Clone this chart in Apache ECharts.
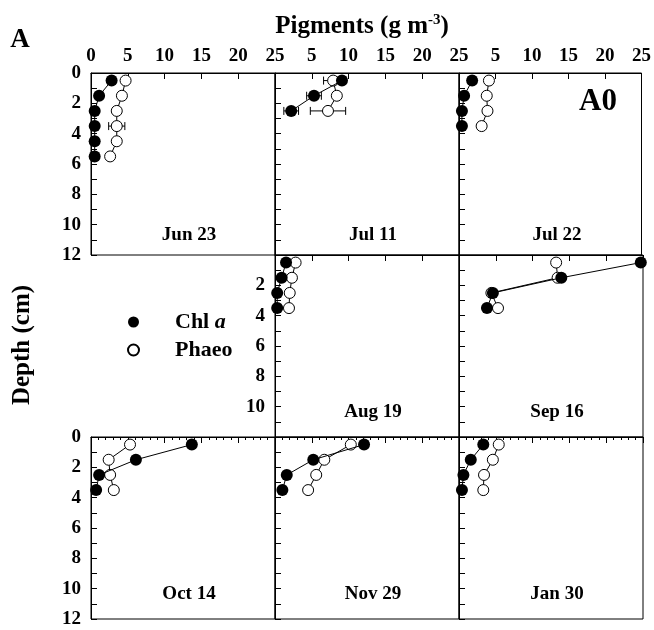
<!DOCTYPE html>
<html>
<head>
<meta charset="utf-8">
<script src="https://cdn.jsdelivr.net/npm/echarts@6/dist/echarts.min.js"></script>
<style>
  html, body { margin: 0; padding: 0; background: #fff; }
  #chart { width: 654px; height: 630px; }
</style>
</head>
<body>
<div id="chart"></div>
<script>
// sample depths (cm), shared by all panels
const depths = [0.5, 1.5, 2.5, 3.5, 4.5, 5.5]

// one entry per panel
const panelDates = ['Jun 23', 'Jul 11', 'Jul 22', 'Aug 19', 'Sep 16', 'Oct 14', 'Nov 29', 'Jan 30']
const chl = [
  [2.8, 1.1, 0.5, 0.5, 0.5, 0.5],
  [9.1, 5.3, 2.2],
  [1.8, 0.7, 0.4, 0.4],
  [1.5, 0.9, 0.3, 0.3],
  [24.7, 13.9, 4.6, 3.8],
  [13.7, 6.1, 1.1, 0.7],
  [12.1, 5.2, 1.6, 1.0],
  [3.3, 1.6, 0.6, 0.4],
]
const phaeo = [
  [4.7, 4.2, 3.5, 3.5, 3.5, 2.6],
  [7.9, 8.4, 7.2],
  [4.1, 3.8, 3.9, 3.1],
  [2.8, 2.3, 2.0, 1.9],
  [13.2, 13.4, 4.4, 5.3],
  [5.3, 2.4, 2.6, 3.1],
  [10.3, 6.7, 5.6, 4.5],
  [5.4, 4.6, 3.4, 3.3],
]
// horizontal error bars (+/-), 0 = none drawn
const chlErr = [
  [0, 0, 0, 0, 0, 0],
  [0, 1.0, 1.0],
  [0, 0, 0, 0],
  [0, 0, 0, 0],
  [0, 0, 0, 0],
  [0, 0, 0, 0],
  [0, 0, 0, 0],
  [0, 0, 0, 0],
]
const phaeoErr = [
  [0.4, 0.4, 0.4, 1.1, 0, 0],
  [1.3, 0.4, 2.4],
  [0, 0, 0, 0],
  [0, 0, 0, 0],
  [0, 0, 0, 0],
  [0, 0, 0, 0],
  [0, 0, 0, 0],
  [0, 0, 0, 0],
]
const xTicks = [0, 5, 10, 15, 20, 25]
const yTicks = [0, 2, 4, 6, 8, 10, 12]

// layout: row/col of each panel in the 3x3 grid (middle-left is empty)
const cells = [[0, 0], [0, 1], [0, 2], [1, 1], [1, 2], [2, 0], [2, 1], [2, 2]]
const L = 91, T = 73, W = 184, H = 182
const FONT = 'Liberation Serif'

const grids = [], xAxes = [], yAxes = [], series = [], graphics = []

cells.forEach(([r, c], i) => {
  grids.push({
    left: L + c * W, top: T + r * H, width: W, height: H,
    show: true, borderColor: '#000', borderWidth: 1, backgroundColor: 'transparent'
  })
  xAxes.push({
    gridIndex: i, type: 'value', min: xTicks[0], max: xTicks[xTicks.length - 1], interval: 5,
    position: 'top',
    axisLine: { show: true, lineStyle: { color: '#000', width: 1 } },
    axisTick: { show: true, inside: true, length: 6, lineStyle: { color: '#000' } },
    minorTick: { show: r === 2, splitNumber: 5, length: 3, lineStyle: { color: '#000' } },
    splitLine: { show: false },
    axisLabel: {
      show: r === 0, margin: 7,
      fontFamily: FONT, fontWeight: 'bold', fontSize: 19, color: '#000',
      formatter: v => (c > 0 && v === 0) ? '' : String(v)
    }
  })
  const showY = c === 0 || (r === 1 && c === 1)
  yAxes.push({
    gridIndex: i, type: 'value', inverse: true, min: yTicks[0], max: yTicks[yTicks.length - 1], interval: 1,
    axisLine: { show: true, lineStyle: { color: '#000', width: 1 } },
    axisTick: { show: true, inside: true, length: 6, lineStyle: { color: '#000' } },
    splitLine: { show: false },
    axisLabel: {
      show: showY, margin: 10,
      fontFamily: FONT, fontWeight: 'bold', fontSize: 19, color: '#000',
      formatter: v => {
        if (!yTicks.includes(v)) return ''
        if (r === 1 && (v === 0 || v === 12)) return ''
        return String(v)
      }
    }
  })

  const chlData = chl[i].map((v, k) => [v, depths[k]])
  const phData = phaeo[i].map((v, k) => [v, depths[k]])
  const errData = []
  chl[i].forEach((v, k) => { if (chlErr[i][k]) errData.push([v, depths[k], chlErr[i][k]]) })
  phaeo[i].forEach((v, k) => { if (phaeoErr[i][k]) errData.push([v, depths[k], phaeoErr[i][k]]) })

  series.push({
    type: 'custom', name: 'err', xAxisIndex: i, yAxisIndex: i, z: 1, silent: true,
    data: errData,
    renderItem: (params, api) => {
      const x = api.value(0), y = api.value(1), e = api.value(2)
      const a = api.coord([x - e, y]), b = api.coord([x + e, y])
      const st = { stroke: '#000', lineWidth: 1 }
      return {
        type: 'group', children: [
          { type: 'line', shape: { x1: a[0], y1: a[1], x2: b[0], y2: b[1] }, style: st },
          { type: 'line', shape: { x1: a[0], y1: a[1] - 4, x2: a[0], y2: a[1] + 4 }, style: st },
          { type: 'line', shape: { x1: b[0], y1: b[1] - 4, x2: b[0], y2: b[1] + 4 }, style: st }
        ]
      }
    }
  })
  series.push({
    type: 'line', name: 'Phaeo', xAxisIndex: i, yAxisIndex: i, z: 2,
    data: phData, symbol: 'circle', symbolSize: 11, showAllSymbol: true,
    lineStyle: { color: '#000', width: 1 },
    itemStyle: { color: '#fff', borderColor: '#000', borderWidth: 1 },
    emphasis: { disabled: true }
  })
  series.push({
    type: 'line', name: 'Chl a', xAxisIndex: i, yAxisIndex: i, z: 3,
    data: chlData, symbol: 'circle', symbolSize: 12, showAllSymbol: true,
    lineStyle: { color: '#000', width: 1 },
    itemStyle: { color: '#000', borderColor: '#000', borderWidth: 0 },
    emphasis: { disabled: true }
  })

  graphics.push({
    type: 'text', x: L + c * W + W / 2 + 6, y: T + r * H + H - (r === 0 ? 20 : 25),
    style: {
      text: panelDates[i], font: `bold 19px "${FONT}"`, fill: '#000',
      align: 'center', verticalAlign: 'middle'
    }
  })
})

graphics.push(
  {
    type: 'text', x: 20, y: 40,
    style: { text: 'A', font: `bold 27px "${FONT}"`, fill: '#000', align: 'center', verticalAlign: 'middle' }
  },
  {
    type: 'text', x: 362, y: 26,
    style: {
      text: '{b|Pigments (g m}{s|-3}{b|)}',
      align: 'center', verticalAlign: 'middle',
      rich: {
        b: { font: `bold 25px "${FONT}"`, fill: '#000', verticalAlign: 'bottom' },
        s: { font: `bold 15px "${FONT}"`, fill: '#000', verticalAlign: 'top', padding: [0, 0, 12, 0] }
      }
    }
  },
  {
    type: 'text', x: 598, y: 102,
    style: { text: 'A0', font: `bold 31px "${FONT}"`, fill: '#000', align: 'center', verticalAlign: 'middle' }
  },
  {
    type: 'text', x: 23, y: 345, rotation: Math.PI / 2,
    style: { text: 'Depth (cm)', font: `bold 25px "${FONT}"`, fill: '#000', align: 'center', verticalAlign: 'middle' }
  }
)

const chart = echarts.init(document.getElementById('chart'))
chart.setOption({
  animation: false,
  grid: grids,
  xAxis: xAxes,
  yAxis: yAxes,
  legend: {
    data: ['Chl a', 'Phaeo'],
    orient: 'vertical', left: 122, top: 306, itemGap: 6,
    itemWidth: 11, itemHeight: 11, icon: 'circle',
    selectedMode: false,
    formatter: name => name === 'Chl a' ? '{p|}{b|Chl }{i|a}' : '{p|}{b|Phaeo}',
    textStyle: {
      rich: {
        p: { width: 31 },
        b: { fontFamily: FONT, fontWeight: 'bold', fontSize: 22, color: '#000', lineHeight: 24 },
        i: { fontFamily: FONT, fontWeight: 'bold', fontStyle: 'italic', fontSize: 22, color: '#000', lineHeight: 24 }
      }
    }
  },
  series,
  graphic: graphics
})
</script>
</body>
</html>
